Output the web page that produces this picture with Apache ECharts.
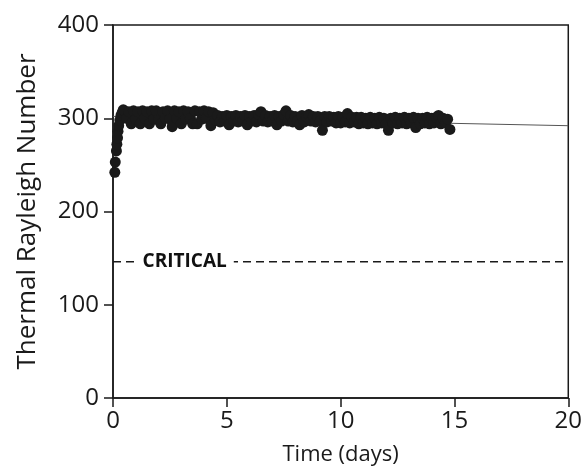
<!DOCTYPE html>
<html>
<head>
<meta charset="utf-8">
<script src="https://cdn.jsdelivr.net/npm/echarts@6/dist/echarts.min.js"></script>
<style>
  html,body{margin:0;padding:0;background:#fff;}
  #chart{width:585px;height:475px;}
</style>
</head>
<body>
<div id="chart"></div>
<script>
// start-up ramp, first half day
const rampDays = [0.08, 0.1, 0.15, 0.17, 0.2, 0.22, 0.25, 0.3, 0.35, 0.4, 0.45];
const rampRa   = [242, 253, 265, 272, 279, 286, 292, 298, 303, 306, 309];

// main band
const bandDays = [
  0.5,0.6,0.7,0.8,0.9,1.0,1.1,1.2,1.3,1.4,1.5,1.6,1.7,1.8,1.9,2.0,2.1,2.2,2.3,2.4,
  2.5,2.6,2.7,2.8,2.9,3.0,3.1,3.2,3.3,3.4,3.5,3.6,3.7,3.8,3.9,4.0,4.1,4.2,4.3,4.4,
  4.5,4.6,4.7,4.8,4.9,5.0,5.1,5.2,5.3,5.4,5.5,5.6,5.7,5.8,5.9,6.0,6.1,6.2,6.3,6.4,
  6.5,6.6,6.7,6.8,6.9,7.0,7.1,7.2,7.3,7.4,7.5,7.6,7.7,7.8,7.9,8.0,8.1,8.2,8.3,8.4,
  8.5,8.6,8.7,8.8,8.9,9.0,9.1,9.2,9.3,9.4,9.5,9.6,9.7,9.8,9.9,10.0,10.1,10.2,10.3,10.4,
  10.5,10.6,10.7,10.8,10.9,11.0,11.1,11.2,11.3,11.4,11.5,11.6,11.7,11.8,11.9,12.0,12.1,12.2,12.3,12.4,
  12.5,12.6,12.7,12.8,12.9,13.0,13.1,13.2,13.3,13.4,13.5,13.6,13.7,13.8,13.9,14.0,14.1,14.2,14.3,14.4,
  14.5,14.6,14.7,14.8
];
const bandRa = [
  308,300,307,294,308,299,307,294,308,300,307,294,308,299,308,298,294,307,300,308,
  299,291,308,300,307,294,308,299,307,300,294,308,294,307,299,308,300,307,292,306,
  298,303,296,302,297,303,293,302,297,303,296,302,297,303,293,302,297,303,296,304,
  307,297,303,296,302,297,303,293,302,297,304,308,297,303,296,302,297,293,303,296,
  302,304,297,302,296,302,297,287,302,296,302,297,301,295,302,295,301,296,305,295,
  301,296,301,294,301,295,300,294,301,295,300,294,301,295,300,294,287,300,295,301,
  294,300,295,301,294,300,295,301,290,300,294,300,295,301,294,300,295,301,303,294,
  300,295,299,288
];

// linear fit shown past the data
const trendDays = [0, 20];
const trendRa   = [302, 292];

const criticalRa = 146;
const criticalText = 'CRITICAL';

const xTicks = [0, 5, 10, 15, 20];
const yTicks = [0, 100, 200, 300, 400];

class page {
  constructor(){
    this.chart = echarts.init(document.getElementById('chart'));
  }
  pairs(xs, ys){
    var out = [];
    for(var i=0;i<xs.length;i++){
      out.push([xs[i], ys[i]]);
    }
    return out;
  }
  init(){
    const font = 'Open Sans';
    const ink = '#1a1a1a';
    const points = this.pairs(rampDays, rampRa).concat(this.pairs(bandDays, bandRa));
    const option = {
      animation:false,
      grid:{
        left:113, right:16, top:25, bottom:77,
        show:true, borderColor:ink, borderWidth:1.5
      },
      xAxis:{
        type:'value',
        min:xTicks[0], max:xTicks[xTicks.length-1], interval:5,
        name:'Time (days)', nameLocation:'middle', nameGap:46,
        nameTextStyle:{fontFamily:font, fontSize:22, color:ink},
        axisLine:{show:true, onZero:false, lineStyle:{color:ink, width:1.5}},
        axisTick:{show:true, inside:false, length:9, lineStyle:{color:ink, width:1.5}},
        axisLabel:{fontFamily:font, fontSize:24, color:ink, margin:11},
        splitLine:{show:false}
      },
      yAxis:{
        type:'value',
        min:yTicks[0], max:yTicks[yTicks.length-1], interval:100,
        name:'Thermal Rayleigh Number', nameLocation:'middle', nameGap:72,
        nameTextStyle:{fontFamily:font, fontSize:26, color:ink},
        axisLine:{show:true, onZero:false, lineStyle:{color:ink, width:1.5}},
        axisTick:{show:true, inside:false, length:9, lineStyle:{color:ink, width:1.5}},
        axisLabel:{fontFamily:font, fontSize:24, color:ink, margin:14},
        splitLine:{show:false}
      },
      series:[
        {
          type:'line',
          data:this.pairs(trendDays, trendRa),
          symbol:'none',
          lineStyle:{color:'#555', width:1},
          z:1
        },
        {
          type:'line',
          data:[[xTicks[0], criticalRa],[xTicks[xTicks.length-1], criticalRa]],
          symbol:'none',
          lineStyle:{color:ink, width:1.5, type:[8,5]},
          z:1
        },
        {
          type:'scatter',
          data:[[3.15, criticalRa]],
          symbolSize:0,
          itemStyle:{opacity:1},
          label:{
            show:true, position:'inside', formatter:criticalText,
            fontFamily:font, fontWeight:'bold', fontSize:19, color:'#111',
            backgroundColor:'#fff', padding:[2,7]
          },
          z:3
        },
        {
          type:'scatter',
          data:points,
          symbol:'circle',
          symbolSize:11,
          itemStyle:{color:'#1a1a1a', opacity:1},
          z:2
        }
      ]
    };
    this.chart.setOption(option);
  }
}

const A = new page();
A.init();
</script>
</body>
</html>
